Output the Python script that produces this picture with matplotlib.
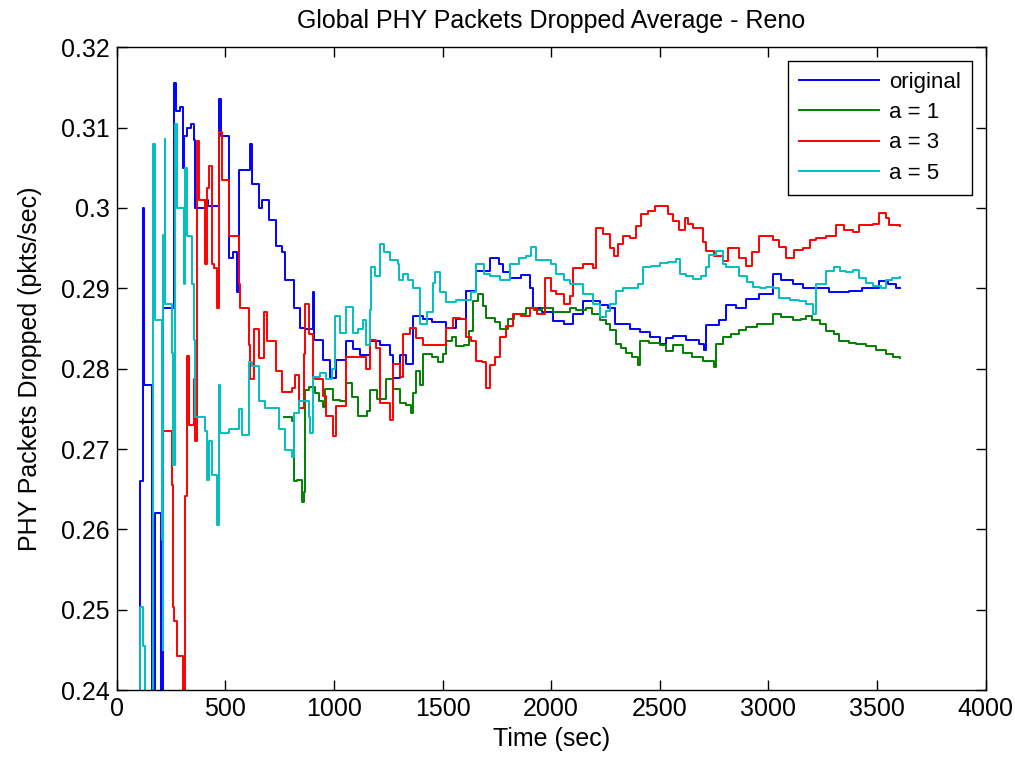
import matplotlib
matplotlib.use("Agg")
import matplotlib.pyplot as plt

# ---------------------------------------------------------------------------
# Series (time in sec, value in pkts/sec)
# ---------------------------------------------------------------------------
orig_t = [100, 108, 120, 125, 161, 174, 200, 205, 215, 262, 272, 290, 305, 312,
          323, 340, 355, 361, 380, 408, 420, 469, 478, 500, 515, 535, 554, 561,
          590, 615, 622, 654, 670, 700, 731, 760, 777, 815, 842, 869, 903, 910,
          949, 980, 1011, 1057, 1090, 1118, 1164, 1210, 1256, 1272, 1302, 1330,
          1364, 1410, 1450, 1517, 1560, 1609, 1655, 1717, 1760, 1780, 1809, 1860,
          1901, 1916, 1960, 2008, 2060, 2100, 2146, 2200, 2223, 2260, 2292, 2361,
          2410, 2453, 2499, 2530, 2560, 2620, 2683, 2706, 2714, 2775, 2806, 2850,
          2898, 2959, 3021, 3060, 3113, 3160, 3220, 3280, 3373, 3430, 3511, 3550,
          3588, 3605]
orig_v = [0.235, 0.266, 0.300, 0.278, 0.235, 0.262, 0.262, 0.235, 0.2875, 0.3155,
          0.312, 0.3125, 0.305, 0.309, 0.310, 0.3105, 0.3085, 0.300, 0.300, 0.301,
          0.3003, 0.3135, 0.309, 0.309, 0.2938, 0.2945, 0.2896, 0.3047, 0.3047,
          0.308, 0.303, 0.300, 0.301, 0.2985, 0.2953, 0.2945, 0.291, 0.2875,
          0.2851, 0.285, 0.2895, 0.2836, 0.2811, 0.2789, 0.2811, 0.2834, 0.2825,
          0.2817, 0.2834, 0.2830, 0.2817, 0.2789, 0.2817, 0.2806, 0.2866, 0.2862,
          0.2858, 0.2851, 0.2862, 0.2897, 0.2922, 0.2938, 0.2930, 0.2920, 0.2913,
          0.2917, 0.2901, 0.2876, 0.2870, 0.2859, 0.2855, 0.2868, 0.2884, 0.2884,
          0.2879, 0.2876, 0.2856, 0.2850, 0.2846, 0.2840, 0.2831, 0.2838, 0.2841,
          0.2836, 0.2831, 0.2823, 0.2854, 0.2860, 0.2879, 0.2875, 0.2887, 0.2893,
          0.2918, 0.2910, 0.2905, 0.2900, 0.2901, 0.2895, 0.2897, 0.2900, 0.2909,
          0.2905, 0.2901, 0.2900]

a1_t = [769, 808, 815, 830, 855, 861, 869, 884, 915, 930, 950, 960, 996, 1030,
        1057, 1085, 1111, 1150, 1164, 1200, 1241, 1270, 1302, 1330, 1356, 1364,
        1379, 1395, 1410, 1450, 1480, 1500, 1517, 1545, 1563, 1600, 1624, 1640,
        1663, 1685, 1701, 1740, 1763, 1800, 1830, 1885, 1920, 1960, 2008, 2050,
        2085, 2115, 2160, 2190, 2223, 2253, 2270, 2299, 2320, 2345, 2370, 2399,
        2407, 2450, 2499, 2530, 2560, 2606, 2650, 2698, 2730, 2752, 2760, 2790,
        2830, 2867, 2898, 2950, 3000, 3021, 3060, 3113, 3150, 3174, 3200, 3240,
        3266, 3300, 3327, 3370, 3404, 3450, 3496, 3540, 3573, 3605]
a1_v = [0.274, 0.2735, 0.266, 0.2662, 0.2634, 0.2647, 0.2773, 0.2777, 0.2770,
        0.2760, 0.2752, 0.2775, 0.2761, 0.2760, 0.2782, 0.2765, 0.2741, 0.2748,
        0.2773, 0.2762, 0.2787, 0.2775, 0.2757, 0.2755, 0.2745, 0.2770, 0.2797,
        0.2780, 0.2818, 0.2815, 0.2808, 0.2818, 0.2834, 0.2840, 0.2828, 0.2830,
        0.2847, 0.2884, 0.2893, 0.2878, 0.2863, 0.2858, 0.2850, 0.2862, 0.2868,
        0.2876, 0.2873, 0.2876, 0.2870, 0.2870, 0.2876, 0.2873, 0.2876, 0.2868,
        0.2861, 0.2855, 0.2848, 0.2831, 0.2826, 0.2819, 0.2815, 0.2805, 0.2835,
        0.2832, 0.2829, 0.2822, 0.2829, 0.2819, 0.2815, 0.2809, 0.2809, 0.2802,
        0.2831, 0.2840, 0.2843, 0.2848, 0.2852, 0.2856, 0.2856, 0.2868, 0.2864,
        0.2860, 0.2862, 0.2866, 0.2861, 0.2855, 0.2847, 0.2843, 0.2835, 0.2832,
        0.2831, 0.2828, 0.2823, 0.2818, 0.2815, 0.2813]

a3_t = [223, 254, 257, 265, 277, 305, 315, 323, 331, 354, 361, 369, 377, 400,
        408, 415, 423, 438, 450, 461, 469, 472, 485, 515, 540, 561, 569, 607,
        615, 631, 654, 677, 692, 731, 761, 808, 823, 838, 861, 869, 884, 903,
        915, 950, 965, 996, 1011, 1042, 1057, 1100, 1149, 1164, 1195, 1210, 1256,
        1272, 1302, 1318, 1348, 1380, 1410, 1487, 1517, 1548, 1580, 1609, 1630,
        1655, 1680, 1701, 1717, 1740, 1763, 1790, 1824, 1860, 1901, 1935, 1970,
        2000, 2024, 2060, 2085, 2100, 2146, 2192, 2207, 2240, 2269, 2290, 2307,
        2330, 2361, 2390, 2414, 2445, 2476, 2514, 2540, 2560, 2590, 2614, 2630,
        2652, 2698, 2714, 2750, 2790, 2814, 2845, 2867, 2898, 2925, 2959, 3021,
        3050, 3082, 3120, 3159, 3190, 3220, 3266, 3312, 3350, 3389, 3419, 3480,
        3511, 3540, 3557, 3605]
a3_v = [0.2722, 0.2655, 0.2504, 0.2486, 0.2442, 0.235, 0.2642, 0.2816, 0.273,
        0.2787, 0.271, 0.3083, 0.301, 0.301, 0.293, 0.3025, 0.3052, 0.293,
        0.2925, 0.2875, 0.2995, 0.3094, 0.3035, 0.2965, 0.2965, 0.2906, 0.2875,
        0.2829, 0.2787, 0.2850, 0.2813, 0.2870, 0.2834, 0.2797, 0.2771, 0.2776,
        0.2792, 0.2751, 0.2818, 0.2880, 0.2843, 0.2790, 0.2787, 0.2766, 0.2741,
        0.2716, 0.2753, 0.2753, 0.2815, 0.2815, 0.2800, 0.2836, 0.2826, 0.2757,
        0.2736, 0.2806, 0.2790, 0.2843, 0.2851, 0.2838, 0.2830, 0.2830, 0.2851,
        0.2863, 0.2862, 0.2840, 0.2835, 0.2810, 0.2808, 0.2776, 0.2805, 0.2815,
        0.2840, 0.2853, 0.2868, 0.2865, 0.2876, 0.2868, 0.2913, 0.2897, 0.2893,
        0.2880, 0.2890, 0.2925, 0.2930, 0.2925, 0.2975, 0.2968, 0.2950, 0.2940,
        0.2955, 0.2965, 0.2962, 0.2978, 0.2992, 0.2996, 0.3002, 0.3002, 0.2992,
        0.2984, 0.2972, 0.2988, 0.2980, 0.2975, 0.2958, 0.2947, 0.2940, 0.2934,
        0.2950, 0.2950, 0.2938, 0.2928, 0.2945, 0.2965, 0.2960, 0.2952, 0.2938,
        0.2948, 0.2950, 0.2960, 0.2963, 0.2965, 0.2979, 0.2973, 0.2970, 0.2979,
        0.2980, 0.2994, 0.2988, 0.2979, 0.2978]

a5_t = [100, 108, 120, 130, 161, 165, 169, 177, 205, 208, 213, 215, 220, 223,
        246, 254, 261, 269, 277, 300, 308, 315, 323, 346, 354, 361, 408, 415,
        423, 438, 461, 469, 477, 515, 561, 577, 607, 623, 654, 684, 746, 777,
        808, 815, 838, 884, 888, 903, 934, 965, 992, 1003, 1030, 1057, 1088,
        1110, 1134, 1149, 1164, 1172, 1190, 1210, 1230, 1256, 1295, 1300, 1318,
        1340, 1364, 1395, 1430, 1456, 1464, 1490, 1517, 1563, 1609, 1630, 1655,
        1690, 1717, 1763, 1809, 1850, 1885, 1908, 1930, 1962, 2000, 2024, 2060,
        2085, 2146, 2192, 2223, 2253, 2269, 2299, 2330, 2361, 2400, 2422, 2460,
        2499, 2540, 2576, 2591, 2620, 2652, 2690, 2714, 2729, 2760, 2790, 2806,
        2867, 2900, 2929, 2960, 2990, 3021, 3051, 3100, 3143, 3175, 3205, 3220,
        3266, 3300, 3330, 3358, 3390, 3419, 3450, 3481, 3520, 3542, 3570, 3605]
a5_v = [0.235, 0.2504, 0.2455, 0.235, 0.235, 0.2969, 0.308, 0.2860, 0.2860,
        0.2587, 0.245, 0.2966, 0.3086, 0.2880, 0.2880, 0.2820, 0.2680, 0.3104,
        0.300, 0.300, 0.2905, 0.305, 0.2965, 0.2905, 0.2836, 0.274, 0.2722,
        0.2662, 0.2710, 0.2668, 0.2605, 0.278, 0.2720, 0.2725, 0.2750, 0.2717,
        0.2808, 0.2803, 0.2760, 0.2751, 0.2725, 0.2699, 0.2690, 0.2745, 0.2760,
        0.2740, 0.2720, 0.2790, 0.2795, 0.2787, 0.2800, 0.2865, 0.2845, 0.2877,
        0.2845, 0.2850, 0.2860, 0.2830, 0.2873, 0.2926, 0.2915, 0.2955, 0.2945,
        0.2935, 0.2930, 0.2910, 0.2918, 0.2910, 0.2900, 0.2855, 0.2870, 0.2907,
        0.2920, 0.2895, 0.2883, 0.2885, 0.2885, 0.2895, 0.2930, 0.2918, 0.2915,
        0.2910, 0.2930, 0.2938, 0.2940, 0.2951, 0.2935, 0.2935, 0.2930, 0.2918,
        0.2910, 0.2905, 0.2893, 0.2880, 0.2864, 0.2872, 0.2880, 0.2897, 0.2900,
        0.2901, 0.2905, 0.2926, 0.2928, 0.2932, 0.2933, 0.2936, 0.2918, 0.2915,
        0.2912, 0.2915, 0.2926, 0.2942, 0.2947, 0.2930, 0.2926, 0.2915, 0.2908,
        0.2902, 0.2900, 0.2902, 0.2900, 0.2888, 0.2886, 0.2884, 0.2880, 0.2868,
        0.2905, 0.2922, 0.2926, 0.2922, 0.2920, 0.2923, 0.2913, 0.2907, 0.2903,
        0.2900, 0.2910, 0.2913, 0.2914]

SERIES = [
    ("original", orig_t, orig_v, "#0000ff"),
    ("a = 1", a1_t, a1_v, "#008000"),
    ("a = 3", a3_t, a3_v, "#ff0000"),
    ("a = 5", a5_t, a5_v, "#00bfbf"),
]

plt.rcParams.update({
    "font.family": ["Liberation Sans", "DejaVu Sans"],
    "font.size": 18,
})

fig = plt.figure(figsize=(10.15, 7.61), dpi=100)
ax = fig.add_axes([0.115, 0.093, 0.856, 0.845])

for label, t, v, color in SERIES:
    ax.plot(t, v, drawstyle="steps-post", color=color, linewidth=1.4, label=label)

ax.set_xlim(0, 4000)
ax.set_ylim(0.24, 0.32)
ax.set_xticks(range(0, 4001, 500))
ax.set_yticks([0.24, 0.25, 0.26, 0.27, 0.28, 0.29, 0.30, 0.31, 0.32])
ax.set_yticklabels(["0.24", "0.25", "0.26", "0.27", "0.28", "0.29", "0.3", "0.31", "0.32"])
ax.tick_params(direction="in", top=True, right=True, length=7, width=1,
               labelsize=18, pad=5)
for s in ax.spines.values():
    s.set_linewidth(1)

ax.set_title("Global PHY Packets Dropped Average - Reno", fontsize=18, pad=14)
ax.set_xlabel("Time (sec)", fontsize=18, labelpad=4)
ax.set_ylabel("PHY Packets Dropped (pkts/sec)", fontsize=18, labelpad=14)

leg = ax.legend(loc="upper right", fontsize=16, frameon=True, fancybox=False,
                edgecolor="black", framealpha=1, borderaxespad=0.6,
                handlelength=3.6, handletextpad=0.45, labelspacing=0.42,
                borderpad=0.5)
leg.get_frame().set_linewidth(1)

fig.savefig("out.png", dpi=100)
